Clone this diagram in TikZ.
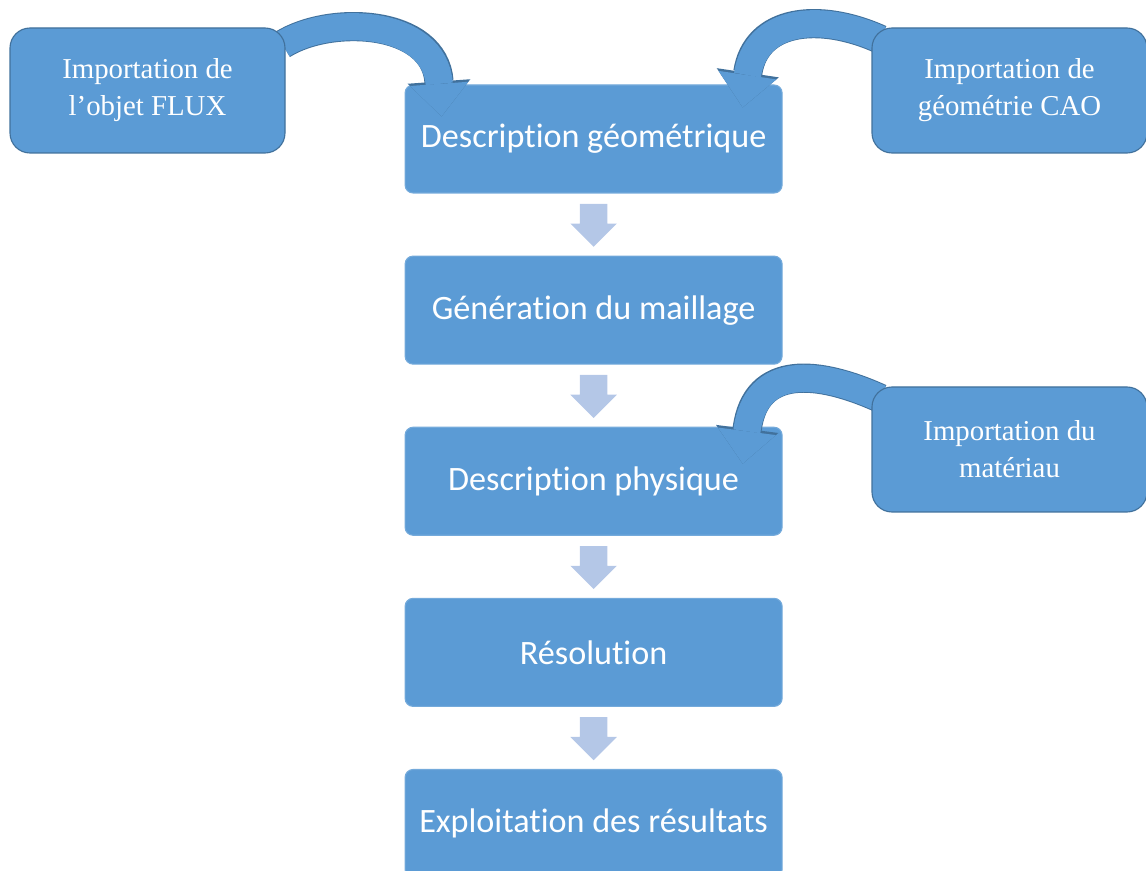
\documentclass[tikz,border=0pt]{standalone}
\usepackage{fontspec}
\setmainfont{Liberation Serif}
\newfontfamily\boxfont[Ligatures=NoCommon]{Carlito}
\usetikzlibrary{arrows.meta, positioning, calc, shapes.arrows, backgrounds}

\definecolor{boxblue}{HTML}{5B9BD5}
\definecolor{edgeblue}{HTML}{41719C}
\definecolor{flowblue}{HTML}{B4C7E7}

\pgfdeclarelayer{mid}
\pgfsetlayers{background,mid,main}

\begin{document}
\begin{tikzpicture}[
    node distance = 1.55cm,
    % --- styles des blocs ---
    etape/.style  = {rectangle, rounded corners=0.2cm, minimum width=9.425cm,
                     minimum height=2.7cm, align=center,
                     fill=boxblue, draw=boxblue!85!white, line width=0.8pt, text=white,
                     font=\boxfont\fontsize{24.3}{29}\selectfont},
    import/.style = {rectangle, rounded corners=0.5cm, minimum width=6.875cm,
                     minimum height=3.125cm, align=center,
                     fill=boxblue, draw=edgeblue, line width=0.8pt, text=white,
                     font=\fontsize{20.5}{26.3}\selectfont},
    flow/.style   = {single arrow, shape border rotate=270, fill=flowblue,
                     minimum height=1.075cm, minimum width=1.15cm,
                     single arrow head extend=0.2375cm, inner sep=0.3375cm,
                     anchor=tail},
    swoop/.style  = {line width=0.68cm, draw=boxblue,
                     -{Triangle[width=0pt 2.15, length=0pt 1.2, line width=0pt]},
                     preaction={draw=edgeblue, line width=0.73cm,
                     -{Triangle[width=0pt 2.15, length=0pt 1.2, line width=0pt]}}}
]
\useasboundingbox (0,0) rectangle (28.65,-21.775);

% ===================== CHAINE PRINCIPALE =====================
\begin{scope}[on background layer]
\node[etape] (geo) at (14.84,-3.475) {Description géométrique};
\node[etape, below=of geo]   (mesh)  {Génération du maillage};
\node[etape, below=of mesh]  (phys)  {Description physique};
\node[etape, below=of phys]  (solve) {Résolution};
\node[etape, below=of solve] (post)  {Exploitation des résultats};
\end{scope}

% ===================== IMPORTATIONS =====================
\node[import] (flux) at (3.6875,-2.2625)   {Importation de\\ l’objet FLUX};
\node[import] (cao)  at (25.2375,-2.2625)  {Importation de\\ géométrie CAO};
\node[import] (mat)  at (25.2375,-11.2375) {Importation du\\ matériau};

% fleches entre etapes
\foreach \a in {geo, mesh, phys, solve}
    \node[flow] at ($(\a.south)+(0,-0.25)$) {};

% fleches courbes (sous les imports, sur les etapes)
\begin{pgfonlayer}{mid}
\draw[swoop] ($(flux.north east)+(-0.075,-0.425)$)
    .. controls +(1.2,0.75) and +(-0.175,2.425) .. ($(geo.north west)+(0.925,-0.8)$);
\draw[swoop] ($(cao.north west)+(0.225,-0.3)$)
    .. controls +(-1.55,0.7) and +(0.325,2.2) .. ($(geo.north east)+(-1.0,-0.575)$);
\draw[swoop] ($(mat.north west)+(0.225,-0.3)$)
    .. controls +(-1.55,0.7) and +(0.325,2.5) .. ($(phys.north east)+(-1.0,-0.925)$);
\end{pgfonlayer}

\end{tikzpicture}
\end{document}
